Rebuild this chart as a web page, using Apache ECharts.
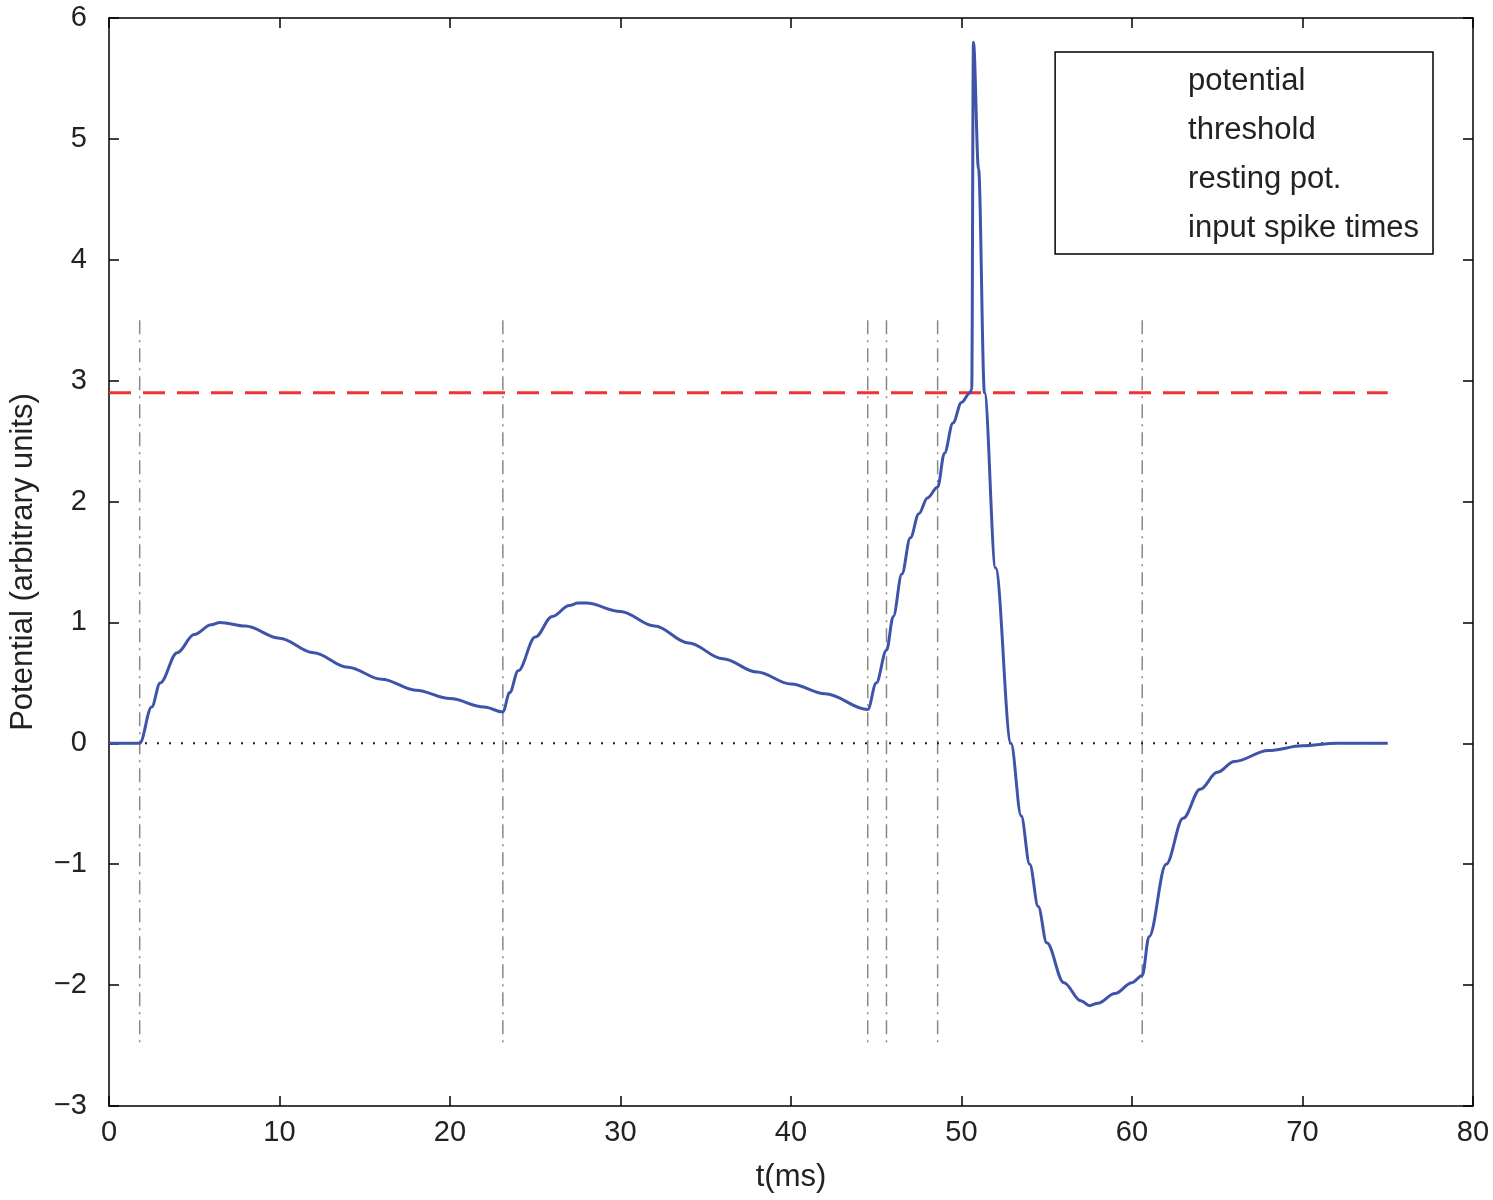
<!DOCTYPE html>
<html>
<head>
<meta charset="utf-8">
<script src="https://cdn.jsdelivr.net/npm/echarts@6/dist/echarts.min.js"></script>
<style>html,body{margin:0;padding:0;background:#fff}#chart{width:1493px;height:1200px}</style>
</head>
<body>
<div id="chart"></div>
<script>
  // potential trace (t in ms, value in arbitrary units)
  var potT = [0, 1.8, 2.5, 3, 4, 5, 6, 6.5, 8, 10, 12, 14, 16, 18, 20, 22, 23.1,
    23.5, 24, 25, 26, 27, 27.5, 28, 30, 32, 34, 36, 38, 40, 42, 44.5,
    45, 45.6, 46, 46.5, 47, 47.5, 48, 48.6, 49, 49.5, 50, 50.5, 50.6, 50.7,
    51, 51.35, 52, 52.9, 53.5, 54, 54.5, 55, 56, 57, 57.5, 58, 59, 60, 60.6,
    61, 62, 63, 64, 65, 66, 68, 70, 72, 75];
  var potV = [0, 0, 0.3, 0.5, 0.75, 0.9, 0.98, 1.0, 0.97, 0.87, 0.75, 0.63, 0.53, 0.44, 0.37, 0.3, 0.26,
    0.42, 0.6, 0.88, 1.05, 1.14, 1.16, 1.16, 1.09, 0.97, 0.83, 0.70, 0.59, 0.49, 0.41, 0.28,
    0.5, 0.77, 1.05, 1.4, 1.7, 1.9, 2.03, 2.12, 2.4, 2.65, 2.82, 2.9, 2.93, 5.8,
    4.75, 2.9, 1.45, 0, -0.6, -1.0, -1.35, -1.65, -1.98, -2.13, -2.17, -2.15, -2.07, -1.98, -1.92,
    -1.6, -1.0, -0.62, -0.38, -0.24, -0.15, -0.06, -0.02, 0, 0];
  var spikeTimes = [1.8, 23.1, 44.5, 45.6, 48.6, 60.6];
  var threshold = 2.9;
  var resting = 0;
  var tEnd = 75;

  var font = 'Liberation Sans, Helvetica, Arial, sans-serif';
  var minusFmt = function (v) { return String(v).replace('-', '\u2212'); };

  var potData = potT.map(function (t, i) { return [t, potV[i]]; });
  var spikeData = [];
  spikeTimes.forEach(function (t) {
    spikeData.push([t, 3.5], [t, -2.5], [t, null]);
  });

  var tickStyle = { inside: true, length: 10, lineStyle: { color: '#000', width: 1.5 } };
  var lineAx = { onZero: false, lineStyle: { color: '#000', width: 1.5 } };

  var option = {
    animation: false,
    backgroundColor: '#fff',
    grid: { left: 105, right: 20, top: 18, bottom: 94 },
    legend: {
      orient: 'vertical', right: 60, top: 52,
      backgroundColor: '#fff', borderColor: '#000', borderWidth: 1.5, borderRadius: 0,
      padding: [14, 14, 10, 20], itemGap: 18, itemWidth: 108, itemHeight: 20,
      textStyle: { fontFamily: font, fontSize: 31, color: '#222' },
      data: [
        { name: 'potential', icon: 'none' },
        { name: 'threshold', icon: 'none' },
        { name: 'resting pot.', icon: 'none' },
        { name: 'input spike times', icon: 'none' }
      ]
    },
    xAxis: [{
      type: 'value', min: 0, max: 80, interval: 10,
      name: 't(ms)', nameLocation: 'middle', nameGap: 56,
      nameTextStyle: { fontFamily: font, fontSize: 31, color: '#222' },
      axisLine: lineAx, axisTick: tickStyle, splitLine: { show: false },
      axisLabel: { fontFamily: font, fontSize: 29, color: '#222', margin: 12 }
    }, {
      type: 'value', min: 0, max: 80, interval: 10, position: 'top',
      axisLine: lineAx, axisTick: tickStyle, splitLine: { show: false },
      axisLabel: { show: false }
    }],
    yAxis: [{
      type: 'value', min: -3, max: 6, interval: 1,
      name: 'Potential (arbitrary units)', nameLocation: 'middle', nameGap: 70,
      nameTextStyle: { fontFamily: font, fontSize: 31, color: '#222' },
      axisLine: lineAx, axisTick: tickStyle, splitLine: { show: false },
      axisLabel: { fontFamily: font, fontSize: 29, color: '#222', margin: 22, formatter: minusFmt }
    }, {
      type: 'value', min: -3, max: 6, interval: 1, position: 'right',
      axisLine: lineAx, axisTick: tickStyle, splitLine: { show: false },
      axisLabel: { show: false }
    }],
    series: [{
      name: 'input spike times', type: 'line', symbol: 'none', connectNulls: false,
      lineStyle: { color: '#888', width: 1.5, type: [14, 6, 2, 6] },
      itemStyle: { color: '#888' },
      data: spikeData
    }, {
      name: 'resting pot.', type: 'line', symbol: 'none',
      lineStyle: { color: '#222', width: 2, type: [2, 10] },
      itemStyle: { color: '#222' },
      data: [[0, resting], [tEnd, resting]]
    }, {
      name: 'threshold', type: 'line', symbol: 'none',
      lineStyle: { color: '#ee3333', width: 3, type: [22, 12] },
      itemStyle: { color: '#ee3333' },
      data: [[0, threshold], [tEnd, threshold]]
    }, {
      name: 'potential', type: 'line', symbol: 'none',
      smooth: 0.35, smoothMonotone: 'x',
      lineStyle: { color: '#3f54a8', width: 3 },
      itemStyle: { color: '#3f54a8' },
      data: potData
    }]
  };

  var chart = echarts.init(document.getElementById('chart'));
  chart.setOption(option);
</script>
</body>
</html>
